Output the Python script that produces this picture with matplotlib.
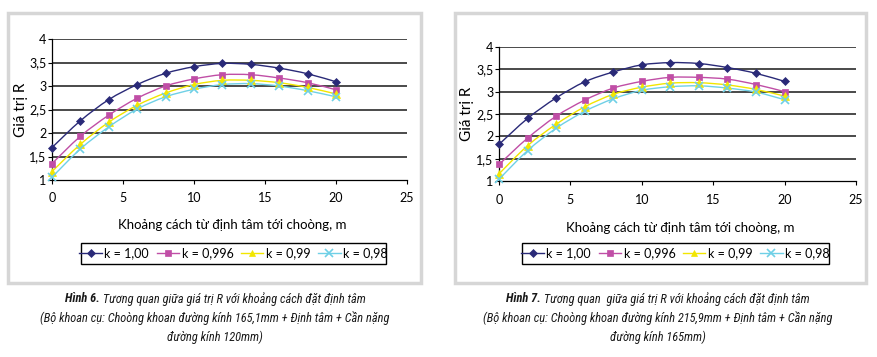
import matplotlib
matplotlib.use("Agg")
import matplotlib.pyplot as plt
import numpy as np
from matplotlib.path import Path
from matplotlib.patches import PathPatch, Rectangle
from matplotlib.lines import Line2D
from matplotlib import font_manager

plt.rcParams['font.family'] = ['Lato', 'DejaVu Sans']

distance = [0, 2, 4, 6, 8, 10, 12, 14, 16, 18, 20]
series_labels = ["k = 1,00", "k = 0,996", "k = 0,99", "k = 0,98"]

fig6_k100 = [1.69, 2.26, 2.71, 3.03, 3.27, 3.41, 3.48, 3.46, 3.38, 3.26, 3.09]
fig6_k0996 = [1.35, 1.93, 2.38, 2.74, 3.00, 3.15, 3.24, 3.24, 3.17, 3.07, 2.92]
fig6_k099 = [1.18, 1.76, 2.23, 2.59, 2.85, 3.03, 3.12, 3.12, 3.07, 2.97, 2.83]
fig6_k098 = [1.06, 1.66, 2.13, 2.51, 2.77, 2.93, 3.03, 3.05, 3.00, 2.90, 2.77]

fig7_k100 = [1.82, 2.40, 2.86, 3.22, 3.44, 3.60, 3.65, 3.63, 3.54, 3.41, 3.23]
fig7_k0996 = [1.37, 1.96, 2.45, 2.81, 3.08, 3.23, 3.32, 3.32, 3.28, 3.16, 3.00]
fig7_k099 = [1.16, 1.79, 2.27, 2.66, 2.94, 3.10, 3.19, 3.20, 3.15, 3.05, 2.90]
fig7_k098 = [1.04, 1.68, 2.18, 2.56, 2.84, 3.03, 3.11, 3.13, 3.08, 2.99, 2.82]

x_ticks = [0, 5, 10, 15, 20, 25]
y_ticks = [1, 1.5, 2, 2.5, 3, 3.5, 4]
y_ticklabels = ["1", "1,5", "2", "2,5", "3", "3,5", "4"]

xlabel = "Khoảng cách từ định tâm tới choòng, m"
ylabel = "Giá trị R"

captions = [
    ("Hình 6.", " Tương quan giữa giá trị R với khoảng cách đặt định tâm",
     "(Bộ khoan cụ: Choòng khoan đường kính 165,1mm + Định tâm + Cần nặng",
     "đường kính 120mm)"),
    ("Hình 7.", " Tương quan  giữa giá trị R với khoảng cách đặt định tâm",
     "(Bộ khoan cụ: Choòng khoan đường kính 215,9mm + Định tâm + Cần nặng",
     "đường kính 165mm)"),
]

colors = ["#2a2a78", "#c04ea6", "#f2e600", "#6fd0e6"]
markers = ["D", "s", "^", "x"]
msizes = [4.5, 5, 5.5, 6]

avail = {f.name for f in font_manager.fontManager.ttflist}
cap_family = ['Lato', 'DejaVu Sans']
for cand in ['Liberation Sans Narrow', 'Roboto Condensed', 'Open Sans Condensed',
             'Noto Sans Condensed', 'DejaVu Sans Condensed']:
    if cand in avail:
        cap_family = [cand, 'DejaVu Sans']
        break

W, H = 877, 357
fig = plt.figure(figsize=(W / 100, H / 100), dpi=100)


def fx(px):
    return px / W


def fy(py):
    return 1 - py / H


def smooth_path(xs, ys, t=0.5):
    xs = np.asarray(xs, float)
    ys = np.asarray(ys, float)
    verts = [(xs[0], ys[0])]
    codes = [Path.MOVETO]
    n = len(xs)
    for i in range(n - 1):
        x0, y0 = (xs[i - 1], ys[i - 1]) if i > 0 else (xs[i], ys[i])
        x1, y1 = xs[i], ys[i]
        x2, y2 = xs[i + 1], ys[i + 1]
        x3, y3 = (xs[i + 2], ys[i + 2]) if i + 2 < n else (x2, y2)
        c1 = (x1 + (x2 - x0) * t / 3, y1 + (y2 - y0) * t / 3)
        c2 = (x2 - (x3 - x1) * t / 3, y2 - (y3 - y1) * t / 3)
        verts += [c1, c2, (x2, y2)]
        codes += [Path.CURVE4] * 3
    return Path(verts, codes)


panels = [
    dict(box=(8, 13, 421, 283), ax=(52, 39, 407, 180), leg=(81, 243, 386, 264),
         ylab_x=21, xlab_y=225, series=[fig6_k100, fig6_k0996, fig6_k099, fig6_k098],
         cap_cx=215, cap_w2=349),
    dict(box=(455, 13, 866, 283), ax=(499, 47, 856, 181), leg=(522, 243, 829, 264),
         ylab_x=467, xlab_y=228, series=[fig7_k100, fig7_k0996, fig7_k099, fig7_k098],
         cap_cx=658, cap_w2=349),
]

renderer = fig.canvas.get_renderer()

for pi, p in enumerate(panels):
    bx0, by0, bx1, by1 = p["box"]
    fig.patches.append(Rectangle((fx(bx0), fy(by1)), fx(bx1 - bx0), (by1 - by0) / H,
                                 transform=fig.transFigure, fill=False,
                                 edgecolor="#d6d6d6", linewidth=2.5))
    ax0, ay0, ax1, ay1 = p["ax"]
    ax = fig.add_axes([fx(ax0), fy(ay1), fx(ax1 - ax0), (ay1 - ay0) / H])
    ax.set_xlim(0, 25)
    ax.set_ylim(1, 4)
    ax.set_xticks(x_ticks)
    ax.set_yticks(y_ticks)
    ax.set_yticklabels(y_ticklabels)
    ax.tick_params(axis="both", labelsize=9, length=3, width=0.8, color="black",
                   direction="out")
    ax.tick_params(axis="x", pad=6)
    ax.tick_params(axis="y", pad=1)
    for s in ["top", "right"]:
        ax.spines[s].set_visible(False)
    ax.spines["left"].set_linewidth(0.9)
    ax.spines["bottom"].set_linewidth(0.9)
    for yv in y_ticks[1:]:
        ax.axhline(yv, color="#3c3c3c", linewidth=1.3, zorder=1)
    for si, ys in enumerate(p["series"]):
        path = smooth_path(distance, ys)
        ax.add_patch(PathPatch(path, facecolor="none", edgecolor=colors[si],
                               linewidth=1.0, zorder=3))
        ax.plot(distance, ys, linestyle="none", marker=markers[si], color=colors[si],
                markersize=msizes[si], markeredgewidth=1.2 if markers[si] == "x" else 0.5,
                zorder=4 + si, clip_on=False)
    fig.text(fx(p["ylab_x"]), fy((ay0 + ay1) / 2), ylabel, rotation=90,
             ha="center", va="center", fontsize=11)
    fig.text(fx((ax0 + ax1) / 2 + 3), fy(p["xlab_y"]), xlabel, ha="center",
             va="center", fontsize=9.5)

    lx0, ly0, lx1, ly1 = p["leg"]
    fig.patches.append(Rectangle((fx(lx0), fy(ly1)), fx(lx1 - lx0), (ly1 - ly0) / H,
                                 transform=fig.transFigure, fill=False,
                                 edgecolor="black", linewidth=1.0))
    handles = [Line2D([], [], color=colors[i], marker=markers[i],
                      markersize=msizes[i] - 0.5, linewidth=1.0,
                      markeredgewidth=1.2 if markers[i] == "x" else 0.5)
               for i in range(4)]
    fig.legend(handles, series_labels, loc="center",
               bbox_to_anchor=(fx((lx0 + lx1) / 2), fy((ly0 + ly1) / 2)),
               ncol=4, frameon=False, fontsize=9, handlelength=1.8,
               handletextpad=0.2, columnspacing=0.6, borderpad=0.1,
               borderaxespad=0)

    bold, rest, l2, l3 = captions[pi]
    cx = fx(p["cap_cx"])
    kw = dict(va="center", style="italic", color="#1a1a1a", family=cap_family)
    # size the caption so that line 2 matches the reference width
    probe = fig.text(0, 0, l2, fontsize=10, **kw)
    w10 = probe.get_window_extent(renderer).width
    probe.remove()
    fs = 10 * p["cap_w2"] / w10
    tb = fig.text(0, fy(299), bold, ha="left", fontweight="bold", fontsize=fs, **kw)
    tr = fig.text(0, fy(299), rest, ha="left", fontsize=fs, **kw)
    wb = tb.get_window_extent(renderer).width
    wr = tr.get_window_extent(renderer).width
    start = p["cap_cx"] - (wb + wr) / 2
    tb.set_x(fx(start))
    tr.set_x(fx(start + wb))
    fig.text(cx, fy(318), l2, ha="center", fontsize=fs, **kw)
    fig.text(cx, fy(337), l3, ha="center", fontsize=fs, **kw)

fig.savefig("out.png", dpi=100)
